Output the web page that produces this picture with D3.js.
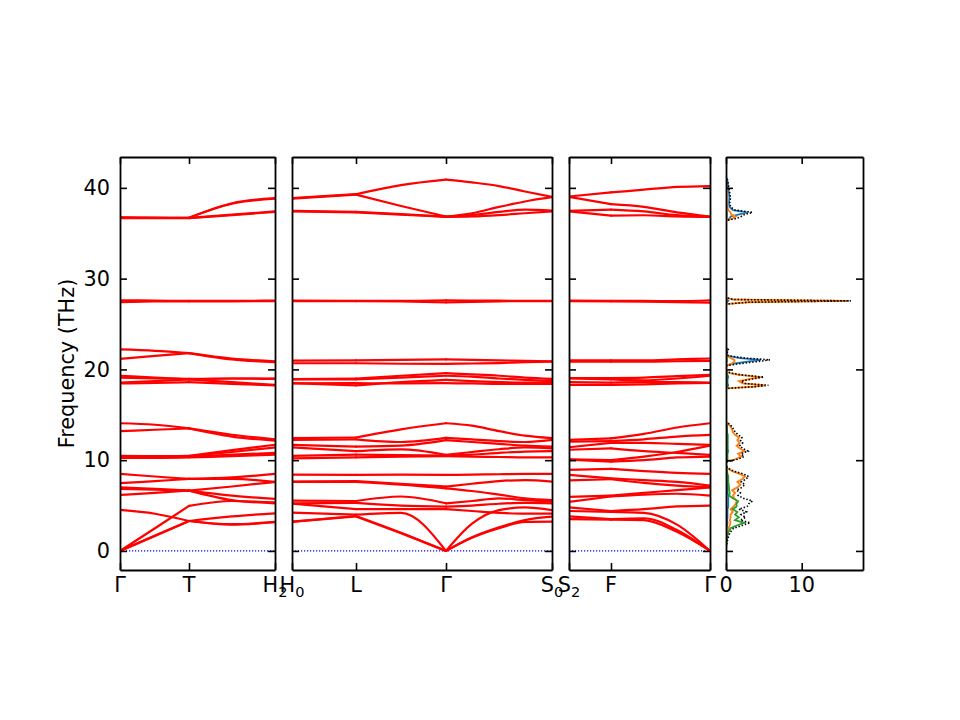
<!DOCTYPE html>
<html>
<head>
<meta charset="utf-8">
<script src="https://cdn.jsdelivr.net/npm/d3@7"></script>
<style>
  body { margin: 0; background: #fff; }
  text { font-family: "DejaVu Sans", sans-serif; }
</style>
</head>
<body>
<svg id="chart" width="960" height="720"></svg>
<script>
// ---- data ----
var freqTicks = [0, 10, 20, 30, 40]

// path Γ-T-H2
var k1 = [0, 35, 69, 112, 155]
var ticks1 = [0, 69, 155]
var labels1 = ["Γ", "T", "H_2"]
var bands1 = [
  [36.75, 36.72, 36.7, 38.3, 38.86],
  [36.72, 36.7, 36.7, 38.25, 38.8],
  [36.7, 36.68, 36.68, 37.05, 37.4],
  [36.66, 36.66, 36.66, 37.0, 37.35],
  [27.62, 27.58, 27.55, 27.55, 27.58],
  [27.42, 27.48, 27.5, 27.5, 27.52],
  [22.2, 22.05, 21.8, 21.2, 20.9],
  [21.15, 21.5, 21.8, 21.1, 20.8],
  [19.3, 19.1, 18.9, 18.6, 18.3],
  [19.1, 19.0, 18.95, 19.0, 19.0],
  [18.55, 18.7, 18.9, 19.0, 18.95],
  [18.45, 18.5, 18.6, 18.4, 18.25],
  [14.07, 13.9, 13.5, 12.8, 12.3],
  [13.2, 13.35, 13.5, 12.6, 12.15],
  [10.47, 10.45, 10.47, 11.1, 11.7],
  [10.4, 10.4, 10.45, 10.9, 11.4],
  [10.3, 10.3, 10.35, 10.6, 10.8],
  [10.25, 10.25, 10.3, 10.45, 10.6],
  [8.48, 8.2, 7.93, 8.1, 8.48],
  [7.46, 7.7, 7.93, 7.95, 7.6],
  [7.0, 6.85, 6.65, 7.1, 7.6],
  [6.83, 6.75, 6.65, 6.1, 5.73],
  [6.17, 6.4, 6.65, 5.6, 5.25],
  [0, 2.5, 4.96, 5.5, 5.35],
  [4.52, 4.1, 3.3, 2.9, 3.16],
  [0, 1.7, 3.3, 3.8, 4.15],
  [0, 1.65, 3.3, 2.95, 3.2]
]

// path H0-L-Γ-S0
var k2 = [0, 64, 109, 154, 180, 207, 233, 260]
var ticks2 = [0, 64, 154, 260]
var labels2 = ["H_0", "L", "Γ", "S_0"]
var bands2 = [
  [38.86, 39.3, 40.3, 40.9, 40.6, 40.2, 39.6, 39.0],
  [38.82, 39.25, 38.0, 36.84, 37.2, 37.9, 38.5, 38.97],
  [37.46, 37.35, 37.1, 36.84, 37.0, 37.35, 37.6, 37.5],
  [37.42, 37.3, 37.05, 36.8, 36.85, 37.0, 37.2, 37.4],
  [27.58, 27.56, 27.55, 27.62, 27.58, 27.57, 27.56, 27.56],
  [27.52, 27.52, 27.48, 27.38, 27.45, 27.5, 27.52, 27.52],
  [20.97, 21.0, 21.05, 21.1, 21.05, 21.0, 20.95, 20.9],
  [20.68, 20.68, 20.62, 20.6, 20.65, 20.7, 20.8, 20.85],
  [18.92, 19.0, 19.3, 19.58, 19.45, 19.3, 19.1, 18.95],
  [18.9, 18.9, 19.1, 19.3, 19.2, 19.0, 18.85, 18.7],
  [18.48, 18.25, 18.6, 18.85, 18.7, 18.6, 18.55, 18.55],
  [18.46, 18.5, 18.45, 18.48, 18.45, 18.4, 18.4, 18.4],
  [12.42, 12.5, 13.4, 14.07, 13.8, 13.2, 12.7, 12.42],
  [12.23, 12.3, 12.0, 12.45, 12.3, 12.1, 12.0, 12.23],
  [11.68, 11.5, 11.6, 12.2, 12.0, 11.8, 11.6, 11.5],
  [11.42, 11.0, 11.2, 10.6, 10.9, 11.2, 11.4, 11.3],
  [10.47, 10.6, 10.55, 10.5, 10.6, 10.8, 10.95, 11.0],
  [10.2, 10.3, 10.4, 10.45, 10.4, 10.35, 10.3, 10.3],
  [8.4, 8.37, 8.4, 8.37, 8.4, 8.45, 8.48, 8.48],
  [7.64, 7.7, 7.4, 7.09, 7.4, 7.7, 7.8, 7.64],
  [7.6, 7.6, 7.3, 6.9, 6.6, 6.2, 5.8, 5.6],
  [5.54, 5.5, 6.0, 5.25, 5.5, 5.8, 5.6, 5.44],
  [5.25, 5.3, 5.0, 4.88, 5.0, 5.2, 5.3, 5.25],
  [5.22, 4.6, 4.6, 4.6, 4.4, 4.2, 4.1, 4.1],
  [4.22, 4.0, 4.2, 0, 3.0, 4.5, 4.8, 4.5],
  [3.23, 3.85, 2.0, 0, 1.5, 2.6, 3.4, 3.77],
  [3.2, 3.8, 1.95, 0, 1.45, 2.5, 3.2, 3.23]
]

// path S2-F-Γ
var k3 = [0, 42, 75, 108, 141]
var ticks3 = [0, 42, 141]
var labels3 = ["S_2", "F", "Γ"]
var bands3 = [
  [39.05, 39.5, 39.8, 40.1, 40.2],
  [39.0, 38.2, 37.9, 37.3, 36.84],
  [37.46, 37.6, 37.4, 37.0, 36.84],
  [37.42, 36.95, 36.98, 36.85, 36.8],
  [27.57, 27.56, 27.55, 27.52, 27.62],
  [27.52, 27.5, 27.46, 27.4, 27.35],
  [21.0, 21.0, 21.0, 21.1, 21.2],
  [20.85, 20.85, 20.85, 20.9, 20.95],
  [19.03, 19.05, 19.1, 19.25, 19.4],
  [19.0, 18.9, 18.8, 19.0, 19.3],
  [18.6, 18.55, 18.6, 18.6, 18.55],
  [18.3, 18.3, 18.35, 18.45, 18.5],
  [12.23, 12.4, 12.9, 13.6, 14.07],
  [12.05, 12.1, 12.3, 12.6, 12.78],
  [11.42, 11.9, 11.9, 11.8, 11.68],
  [11.15, 11.3, 11.0, 10.8, 10.58],
  [10.1, 10.0, 10.4, 10.9, 11.6],
  [10.05, 9.84, 10.0, 10.3, 10.4],
  [8.93, 9.04, 8.8, 8.6, 8.48],
  [8.37, 8.0, 7.8, 7.6, 7.2],
  [7.77, 7.9, 7.5, 7.2, 7.0],
  [5.95, 6.1, 6.4, 6.7, 7.0],
  [5.4, 6.0, 6.2, 6.3, 6.1],
  [4.8, 4.4, 4.6, 4.9, 5.0],
  [4.4, 4.3, 4.2, 2.9, 0],
  [3.8, 3.5, 3.6, 2.3, 0],
  [3.5, 3.45, 3.4, 2.1, 0]
]

// density of states
var dosTicks = [0, 10]
var dosFreq = [0, 0.5, 1, 1.5, 2, 2.5, 2.8, 3.1, 3.4, 3.7, 4, 4.3, 4.6, 4.9, 5.2, 5.5, 5.8, 6.1, 6.4, 6.7,
  7, 7.3, 7.6, 7.9, 8.2, 8.5, 8.8, 9.1, 9.4,
  9.8, 10.1, 10.4, 10.7, 11, 11.3, 11.6, 11.9, 12.2, 12.5, 12.8, 13.1, 13.4, 13.7, 14, 14.2,
  17.9, 18.1, 18.25, 18.45, 18.7, 18.95, 19.15, 19.4, 19.6, 19.8,
  20.4, 20.6, 20.85, 21.05, 21.25, 21.5, 21.8, 22.2, 22.4,
  27.2, 27.4, 27.55, 27.7, 27.9,
  36.4, 36.65, 36.85, 37.05, 37.3, 37.55, 37.9, 38.4, 38.9, 39.4, 39.9, 40.4, 40.9, 41.2]
var dosTotal = [0, 0.05, 0.15, 0.3, 0.5, 1.0, 2.1, 3.2, 1.9, 2.6, 2.0, 2.7, 1.7, 2.8, 3.0, 3.5, 2.3, 1.6, 1.9, 1.4,
  2.1, 2.5, 2.0, 2.6, 3.0, 2.2, 1.0, 0.3, 0,
  0, 1.5, 2.4, 2.0, 2.9, 2.2, 1.8, 2.2, 1.9, 2.1, 1.6, 1.2, 1.0, 0.8, 0.4, 0,
  0, 4.0, 5.6, 2.5, 2.0, 3.5, 5.0, 2.0, 0.6, 0,
  0, 1.5, 4.0, 5.8, 2.5, 0.3, 0.15, 0.3, 0,
  0, 3.0, 16.5, 1.0, 0,
  0, 1.5, 2.0, 2.4, 3.5, 1.2, 0.6, 0.5, 0.6, 0.5, 0.4, 0.3, 0.2, 0]
var dosBlue = [0, 0.01, 0.03, 0.05, 0.08, 0.1, 0.15, 0.2, 0.15, 0.2, 0.2, 0.2, 0.2, 0.3, 0.3, 0.3, 0.3, 0.3, 0.2, 0.2,
  0.2, 0.2, 0.2, 0.2, 0.2, 0.15, 0.1, 0.05, 0,
  0, 0.1, 0.15, 0.15, 0.2, 0.2, 0.2, 0.2, 0.2, 0.2, 0.2, 0.15, 0.1, 0.1, 0.05, 0,
  0, 0.2, 0.3, 0.2, 0.2, 0.2, 0.3, 0.2, 0.1, 0,
  0, 0.8, 2.8, 4.6, 1.8, 0.2, 0.1, 0.2, 0,
  0, 0.1, 0.3, 0, 0,
  0, 0.5, 0.6, 1.6, 2.8, 0.9, 0.45, 0.4, 0.45, 0.4, 0.3, 0.25, 0.15, 0]
var dosOrange = [0, 0.02, 0.05, 0.1, 0.15, 0.3, 0.5, 0.6, 0.5, 0.6, 0.6, 0.9, 0.6, 1.0, 1.3, 1.4, 1.1, 0.9, 1.2, 0.8,
  1.5, 1.9, 1.5, 2.1, 2.5, 1.8, 0.8, 0.2, 0,
  0, 1.2, 2.0, 1.6, 2.4, 1.8, 1.4, 1.8, 1.5, 1.7, 1.2, 0.9, 0.8, 0.6, 0.3, 0,
  0, 3.7, 5.1, 2.2, 1.7, 3.2, 4.6, 1.7, 0.5, 0,
  0, 0.7, 1.1, 1.1, 0.6, 0.1, 0.05, 0.1, 0,
  0, 2.9, 16.0, 0.9, 0,
  0, 0.9, 1.3, 0.7, 0.6, 0.3, 0.15, 0.1, 0.1, 0.1, 0.1, 0.05, 0.05, 0]
var dosGreen = [0, 0.02, 0.07, 0.15, 0.27, 0.6, 1.4, 2.4, 1.2, 1.7, 1.2, 1.5, 0.9, 1.4, 1.4, 1.6, 0.9, 0.4, 0.5, 0.4,
  0.4, 0.35, 0.3, 0.3, 0.3, 0.2, 0.1, 0.05, 0,
  0, 0.2, 0.2, 0.2, 0.3, 0.2, 0.2, 0.2, 0.2, 0.2, 0.2, 0.1, 0.1, 0.1, 0.05, 0,
  0, 0.1, 0.1, 0.1, 0.1, 0.1, 0.1, 0.1, 0, 0,
  0, 0, 0.1, 0.1, 0.1, 0, 0, 0, 0,
  0, 0, 0.1, 0, 0,
  0, 0.05, 0.1, 0.1, 0.1, 0, 0, 0, 0, 0, 0, 0, 0, 0]

// ---- layout ----
var svg = d3.select("#chart")
var plotTop = 157, plotBottom = 570
var tickLen = 7
var fontSize = 20.8

var y = d3.scaleLinear().domain([-2.1, 43.4]).range([plotBottom, plotTop])

var panels = [
  { k: k1, bands: bands1, ticks: ticks1, labels: labels1, left: 120, right: 275, showY: true },
  { k: k2, bands: bands2, ticks: ticks2, labels: labels2, left: 292, right: 552, showY: false },
  { k: k3, bands: bands3, ticks: ticks3, labels: labels3, left: 569, right: 710, showY: false }
]

panels.forEach(function(p, pi) {
  var x = d3.scaleLinear().domain([0, d3.max(p.k)]).range([p.left, p.right])
  var g = svg.append("g")

  g.append("clipPath").attr("id", "clip" + pi)
    .append("rect")
    .attr("x", p.left).attr("y", plotTop)
    .attr("width", p.right - p.left).attr("height", plotBottom - plotTop)

  var plot = g.append("g").attr("clip-path", "url(#clip" + pi + ")")

  // zero line
  plot.append("line")
    .attr("x1", x(0)).attr("x2", x(d3.max(p.k)))
    .attr("y1", y(0)).attr("y2", y(0))
    .style("stroke", "#0000ff")
    .style("stroke-width", 1.2)
    .style("stroke-dasharray", "1.2,1.8")

  var line = d3.line()
    .x(function(d) { return x(d[0]) })
    .y(function(d) { return y(d[1]) })
    .curve(d3.curveMonotoneX)

  // split every band at the high-symmetry points
  var pieces = []
  p.bands.forEach(function(b) {
    for (var s = 0; s < p.ticks.length - 1; s++) {
      var pts = []
      p.k.forEach(function(kv, i) {
        if (kv >= p.ticks[s] && kv <= p.ticks[s + 1]) pts.push([kv, b[i]])
      })
      pieces.push(pts)
    }
  })

  plot.selectAll("path.band")
    .data(pieces)
    .enter().append("path")
    .attr("class", "band")
    .attr("d", line)
    .style("fill", "none")
    .style("stroke", "#ff0000")
    .style("stroke-width", 2.2)
    .style("stroke-linecap", "round")

  drawAxes(g, x, p.ticks, p.left, p.right, p.showY)

  // k-point labels
  p.ticks.forEach(function(t, i) {
    addLabel(g, x(t), 592, p.labels[i])
  })
})

// DOS panel
var dosLeft = 726, dosRight = 863
var xd = d3.scaleLinear().domain([0, 18.1]).range([dosLeft, dosRight])
var gd = svg.append("g")
gd.append("clipPath").attr("id", "clipdos")
  .append("rect")
  .attr("x", dosLeft).attr("y", plotTop)
  .attr("width", dosRight - dosLeft).attr("height", plotBottom - plotTop)
var dplot = gd.append("g").attr("clip-path", "url(#clipdos)")

var dosSeries = [
  { v: dosBlue, color: "#1f77b4", width: 1.8, dash: null },
  { v: dosOrange, color: "#ff7f0e", width: 1.8, dash: null },
  { v: dosGreen, color: "#2ca02c", width: 1.8, dash: null },
  { v: dosTotal, color: "#000000", width: 1.6, dash: "1.5,1.8" }
]
dosSeries.forEach(function(s) {
  var dline = d3.line()
    .x(function(d) { return xd(d) })
    .y(function(d, i) { return y(dosFreq[i]) })
  dplot.append("path")
    .attr("d", dline(s.v))
    .style("fill", "none")
    .style("stroke", s.color)
    .style("stroke-width", s.width)
    .style("stroke-dasharray", s.dash)
})

drawAxes(gd, xd, dosTicks, dosLeft, dosRight, false)
dosTicks.forEach(function(t) {
  gd.append("text")
    .attr("x", xd(t)).attr("y", 592)
    .attr("text-anchor", "middle")
    .style("font-size", fontSize + "px")
    .text(t)
})

// y axis title
svg.append("text")
  .attr("transform", "translate(74," + ((plotTop + plotBottom) / 2) + ") rotate(-90)")
  .attr("text-anchor", "middle")
  .style("font-size", fontSize + "px")
  .text("Frequency (THz)")

function drawAxes(g, x, xticks, left, right, showY) {
  var ax = g.append("g").attr("class", "axes")
  ax.append("g")
    .attr("transform", "translate(" + left + ",0)")
    .call(d3.axisLeft(y).tickValues(freqTicks).tickSize(-tickLen).tickSizeOuter(0)
      .tickPadding(10).tickFormat(showY ? d3.format("d") : ""))
  ax.append("g")
    .attr("transform", "translate(" + right + ",0)")
    .call(d3.axisRight(y).tickValues(freqTicks).tickSize(-tickLen).tickSizeOuter(0).tickFormat(""))
  ax.append("g")
    .attr("transform", "translate(0," + plotTop + ")")
    .call(d3.axisTop(x).tickValues(xticks).tickSize(-tickLen).tickSizeOuter(0).tickFormat(""))
  ax.append("g")
    .attr("transform", "translate(0," + plotBottom + ")")
    .call(d3.axisBottom(x).tickValues(xticks).tickSize(-tickLen).tickSizeOuter(0).tickFormat(""))

  ax.selectAll(".domain").style("stroke", "#000").style("stroke-width", 1.8)
  ax.selectAll(".tick line").style("stroke", "#000").style("stroke-width", 1.6)
  ax.selectAll("g").attr("font-family", null).attr("font-size", null)
  ax.selectAll(".tick text").style("font-size", fontSize + "px").attr("fill", "#000")
}

function addLabel(g, x, yPos, label) {
  var parts = label.split("_")
  var t = g.append("text")
    .attr("x", x).attr("y", yPos)
    .attr("text-anchor", "middle")
    .style("font-size", fontSize + "px")
  t.append("tspan").text(parts[0])
  if (parts.length > 1) {
    t.append("tspan")
      .attr("dy", 5)
      .style("font-size", (fontSize * 0.7) + "px")
      .text(parts[1])
  }
}
</script>
</body>
</html>
